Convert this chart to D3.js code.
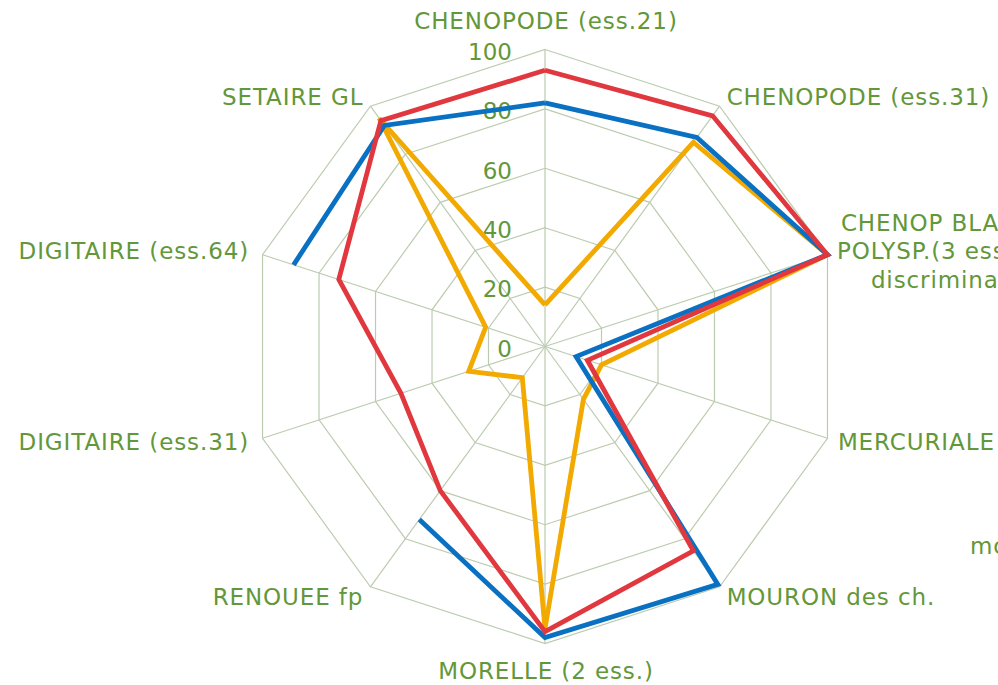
<!DOCTYPE html>
<html>
<head>
<meta charset="utf-8">
<script src="https://cdn.jsdelivr.net/npm/d3@7/dist/d3.min.js"></script>
<style>
  html, body { margin: 0; padding: 0; background: #fff; overflow: hidden; }
  text { font-family: "DejaVu Sans", Verdana, sans-serif; }
</style>
</head>
<body>
<svg id="chart" width="998" height="685"></svg>
<script>
// ---- data ----
const categories = [
  ["CHENOPODE (ess.21)"],
  ["CHENOPODE (ess.31)"],
  ["CHENOP BLANC", "POLYSP.(3 ess.", "discriminantes)"],
  ["MERCURIALE"],
  ["MOURON des ch."],
  ["MORELLE (2 ess.)"],
  ["RENOUEE fp"],
  ["DIGITAIRE (ess.31)"],
  ["DIGITAIRE (ess.64)"],
  ["SETAIRE GL"]
];
const seriesOrange = [14, 85, 100, 20, 22, 95, 13, 27, 21, 95];
const seriesBlue   = [82, 87, 100, 11, 99, 98, 72, null, 89, 92];
const seriesRed    = [93, 96, 100, 15, 85, 96, 60, 51, 73, 94];
const tickValues = [0, 20, 40, 60, 80, 100];
const legendText = "moyenne";

const series = [
  { name: "orange", values: seriesOrange, color: "#F2A900" },
  { name: "blue",   values: seriesBlue,   color: "#0A70C2" },
  { name: "red",    values: seriesRed,    color: "#E0383E" }
];

// ---- layout ----
const cx = 545, cy = 346.5, R = 297;
const textColor = "#62973A";
const gridColor = "#BCCCB0";
const fontSize = 23;

const svg = d3.select("#chart");
const n = categories.length;
const angle = d3.scaleLinear().domain([0, n]).range([0, 2 * Math.PI]);
const rScale = d3.scaleLinear().domain([0, 100]).range([0, R]);

const pt = (i, v) => {
  const a = angle(i);
  return [cx + rScale(v) * Math.sin(a), cy - rScale(v) * Math.cos(a)];
};

const g = svg.append("g");

// rings
tickValues.filter(t => t > 0).forEach(t => {
  const pts = d3.range(n).map(i => pt(i, t));
  g.append("path")
    .attr("d", d3.line()(pts) + "Z")
    .attr("fill", "none")
    .attr("stroke", gridColor)
    .attr("stroke-width", 1.2);
});
// spokes
d3.range(n).forEach(i => {
  const [x, y] = pt(i, 100);
  g.append("line")
    .attr("x1", cx).attr("y1", cy).attr("x2", x).attr("y2", y)
    .attr("stroke", gridColor).attr("stroke-width", 1.2);
});

// tick labels
g.selectAll(".tick").data(tickValues).enter().append("text")
  .attr("x", cx - 33)
  .attr("y", d => cy - rScale(d) + 2)
  .attr("dy", "0.36em")
  .attr("text-anchor", "end")
  .attr("font-size", fontSize)
  .attr("fill", textColor)
  .text(d => d);

// series lines
const line = d3.line().defined(d => d[2] != null).x(d => d[0]).y(d => d[1]);
series.forEach(s => {
  const pts = d3.range(n + 1).map(k => {
    const i = k % n;
    const v = s.values[i];
    const p = pt(i, v == null ? 0 : v);
    return [p[0], p[1], v];
  });
  g.append("path")
    .attr("d", line(pts))
    .attr("fill", "none")
    .attr("stroke", s.color)
    .attr("stroke-width", 4.8)
    .attr("stroke-linejoin", "miter")
    .attr("stroke-linecap", "butt");
});

// category labels
categories.forEach((lines, i) => {
  const a = angle(i);
  const s = Math.sin(a), c = Math.cos(a);
  let [x, y] = [cx + (R + 12) * s, cy - (R + 12) * c];
  let anchor = "middle";
  if (s > 0.1) anchor = "start";
  else if (s < -0.1) anchor = "end";
  if (Math.abs(s) > 0.9) x += (s > 0 ? -1 : -2);
  if (anchor === "middle") { y += (c > 0 ? -17 : 15); x += 1; }
  const lh = 28.5;
  const t = g.append("text")
    .attr("text-anchor", anchor)
    .attr("font-size", fontSize)
    .attr("letter-spacing", "0.9px")
    .attr("fill", textColor);
  lines.forEach((ln, j) => {
    t.append("tspan")
      .attr("x", x + (lines.length > 1 && j === 2 ? 30 : 0) + (lines.length > 1 && j === 1 ? -4 : 0) + (lines.length > 1 ? 3 : 0))
      .attr("y", y + (j - (lines.length - 1) / 2) * lh)
      .attr("dy", "0.36em")
      .text(ln);
  });
});

// legend text (cut by the right edge)
g.append("text")
  .attr("x", 970).attr("y", 546).attr("dy", "0.36em")
  .attr("font-size", fontSize).attr("letter-spacing", "0.9px").attr("fill", textColor)
  .text(legendText);
</script>
</body>
</html>
